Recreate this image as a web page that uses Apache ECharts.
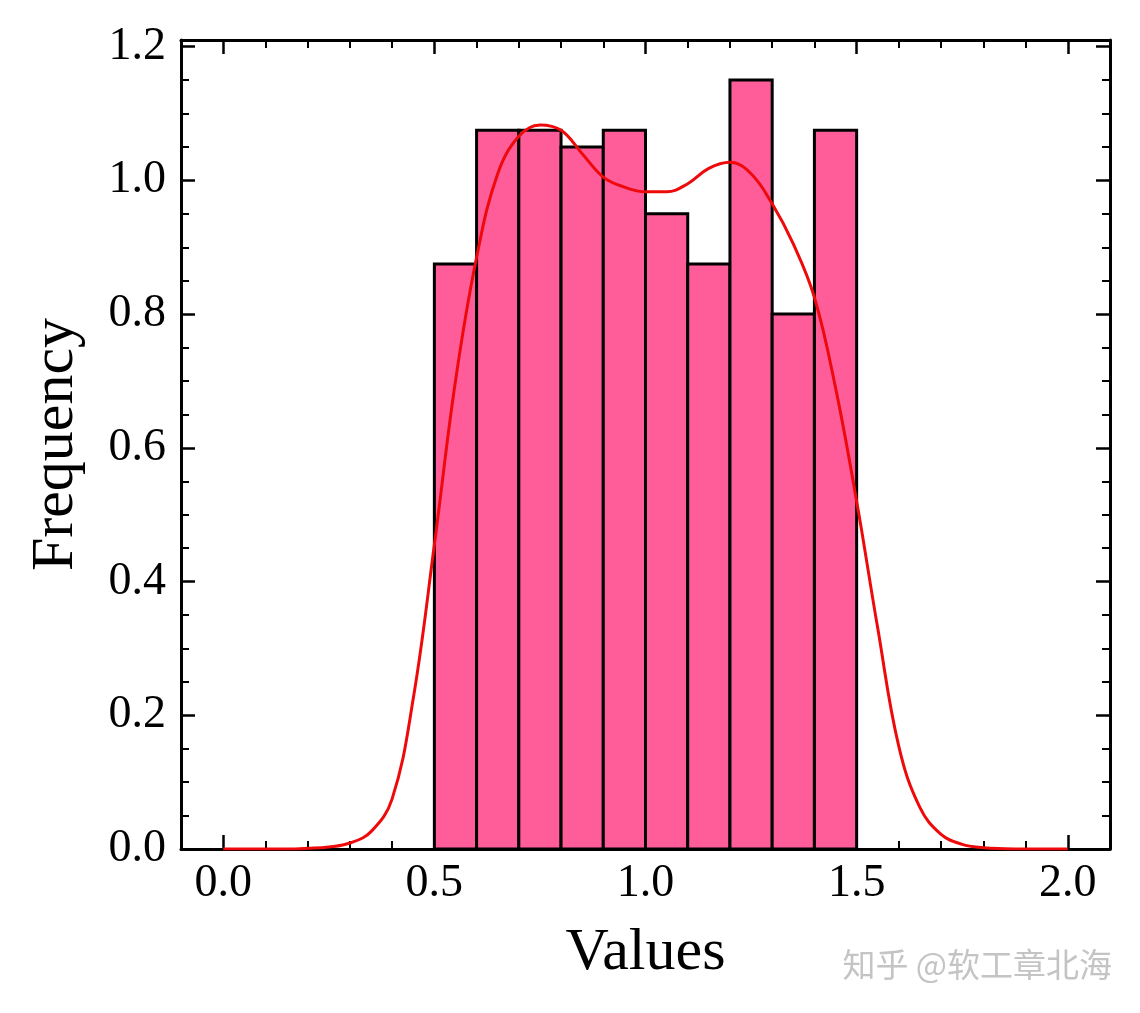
<!DOCTYPE html>
<html>
<head>
<meta charset="utf-8">
<title>Histogram with KDE</title>
<script src="https://cdn.jsdelivr.net/npm/echarts@6/dist/echarts.min.js"></script>
<style>
  html, body { margin: 0; padding: 0; background: #fff; }
  #main { width: 1140px; height: 1013px; }
</style>
</head>
<body>
<div id="main"></div>
<script>
// 直方图的分箱（左边缘、右边缘）和密度值
var binLeft = [0.5, 0.6, 0.7, 0.8, 0.9, 1.0, 1.1, 1.2, 1.3, 1.4];
var binRight = [0.6, 0.7, 0.8, 0.9, 1.0, 1.1, 1.2, 1.3, 1.4, 1.5];
var binDensity = [0.875, 1.075, 1.075, 1.05, 1.075, 0.95, 0.875, 1.15, 0.8, 1.075];

// KDE 曲线（从图上读出来的）
var kdeX = [0.00, 0.05, 0.10, 0.15, 0.20, 0.25, 0.30, 0.35, 0.40, 0.45,
            0.50, 0.55, 0.60, 0.65, 0.70, 0.75, 0.80, 0.85, 0.90, 0.95,
            1.00, 1.05, 1.10, 1.15, 1.20, 1.25, 1.30, 1.35, 1.40, 1.45,
            1.50, 1.55, 1.60, 1.65, 1.70, 1.75, 1.80, 1.85, 1.90, 1.95, 2.00];
var kdeY = [0, 0, 0, 0, 0.001, 0.003, 0.009, 0.026, 0.075, 0.225,
            0.455, 0.70, 0.885, 1.01, 1.066, 1.083, 1.075, 1.04, 1.005, 0.99,
            0.983, 0.983, 0.995, 1.018, 1.027, 1.01, 0.965, 0.905, 0.825, 0.69,
            0.52, 0.33, 0.153, 0.062, 0.022, 0.007, 0.002, 0.0005, 0, 0, 0];

// 刻度
var xMajorTicks = [0, 0.5, 1.0, 1.5, 2.0];
var xMinorTicks = [0.1, 0.2, 0.3, 0.4, 0.6, 0.7, 0.8, 0.9, 1.1, 1.2, 1.3, 1.4, 1.6, 1.7, 1.8, 1.9];
var yMajorTicks = [0, 0.2, 0.4, 0.6, 0.8, 1.0, 1.2];
var yMinorTicks = [0.05, 0.1, 0.15, 0.25, 0.3, 0.35, 0.45, 0.5, 0.55, 0.65, 0.7, 0.75,
                   0.85, 0.9, 0.95, 1.05, 1.1, 1.15];

var xMin = -0.1, xMax = 2.1, yMin = 0, yMax = 1.21;

var serif = '"Liberation Serif", "Times New Roman", serif';

var myChart = echarts.init(document.getElementById('main'));

var histData = [];
for (var i = 0; i < binLeft.length; i++) {
    histData.push([binLeft[i], binRight[i], binDensity[i]]);
}
var kdeData = [];
for (var j = 0; j < kdeX.length; j++) {
    kdeData.push([kdeX[j], kdeY[j]]);
}

var gridPos = { left: 181, top: 40, right: 30, bottom: 164, outerBoundsMode: 'none' };

function majorX(position, showLabel) {
    return {
        type: 'value', gridIndex: 0, position: position,
        min: xMin, max: xMax,
        splitLine: { show: false },
        axisLine: { show: true, onZero: false, lineStyle: { color: '#000', width: 3 } },
        axisTick: { show: true, inside: true, length: 14, customValues: xMajorTicks,
                    lineStyle: { color: '#000', width: 2.5 } },
        axisLabel: { show: showLabel, customValues: xMajorTicks, margin: 12,
                     fontFamily: serif, fontSize: 46, color: '#000',
                     formatter: function(v) { return v.toFixed(1); } }
    };
}
function minorX(position) {
    return {
        type: 'value', gridIndex: 1, position: position,
        min: xMin, max: xMax,
        splitLine: { show: false },
        axisLine: { show: false, onZero: false },
        axisTick: { show: true, inside: true, length: 8, customValues: xMinorTicks,
                    lineStyle: { color: '#000', width: 2 } },
        axisLabel: { show: false }
    };
}
function majorY(position, showLabel) {
    return {
        type: 'value', gridIndex: 0, position: position,
        min: yMin, max: yMax,
        splitLine: { show: false },
        axisLine: { show: true, onZero: false, lineStyle: { color: '#000', width: 3 } },
        axisTick: { show: true, inside: true, length: 14, customValues: yMajorTicks,
                    lineStyle: { color: '#000', width: 2.5 } },
        axisLabel: { show: showLabel, customValues: yMajorTicks, margin: 15,
                     fontFamily: serif, fontSize: 46, color: '#000',
                     formatter: function(v) { return v.toFixed(1); } }
    };
}
function minorY(position) {
    return {
        type: 'value', gridIndex: 1, position: position,
        min: yMin, max: yMax,
        splitLine: { show: false },
        axisLine: { show: false, onZero: false },
        axisTick: { show: true, inside: true, length: 8, customValues: yMinorTicks,
                    lineStyle: { color: '#000', width: 2 } },
        axisLabel: { show: false }
    };
}

var xBottom = majorX('bottom', true);
xBottom.name = 'Values';
xBottom.nameLocation = 'middle';
xBottom.nameGap = 74;
xBottom.nameTextStyle = { fontFamily: serif, fontSize: 60, color: '#000' };

var yLeft = majorY('left', true);
yLeft.name = 'Frequency';
yLeft.nameLocation = 'middle';
yLeft.nameRotate = 90;
yLeft.nameGap = 95;
yLeft.nameTextStyle = { fontFamily: serif, fontSize: 60, color: '#000' };

var option = {
    animation: false,
    backgroundColor: '#fff',
    grid: [gridPos, gridPos],
    xAxis: [xBottom, majorX('top', false), minorX('bottom'), minorX('top')],
    yAxis: [yLeft, majorY('right', false), minorY('left'), minorY('right')],
    series: [{
        name: 'hist',
        type: 'custom',
        xAxisIndex: 0,
        yAxisIndex: 0,
        encode: { x: [0, 1], y: 2 },
        renderItem: function(params, api) {
            var topLeft = api.coord([api.value(0), api.value(2)]);
            var bottomRight = api.coord([api.value(1), 0]);
            return {
                type: 'rect',
                shape: {
                    x: topLeft[0],
                    y: topLeft[1],
                    width: bottomRight[0] - topLeft[0],
                    height: bottomRight[1] - topLeft[1]
                },
                style: { fill: '#ff5c9a', stroke: '#000', lineWidth: 3 }
            };
        },
        data: histData,
        z: 2
    }, {
        name: 'kde',
        type: 'line',
        xAxisIndex: 0,
        yAxisIndex: 0,
        smooth: 0.4,
        symbol: 'none',
        lineStyle: { color: '#ee0a0a', width: 3 },
        data: kdeData,
        z: 3
    }],
    graphic: [{
        type: 'text',
        right: 28,
        top: 948,
        style: {
            text: '知乎 @软工章北海',
            fontFamily: '"Noto Sans CJK SC", sans-serif',
            fontSize: 33,
            fill: '#c4c4c4'
        }
    }]
};

myChart.setOption(option);
</script>
</body>
</html>
